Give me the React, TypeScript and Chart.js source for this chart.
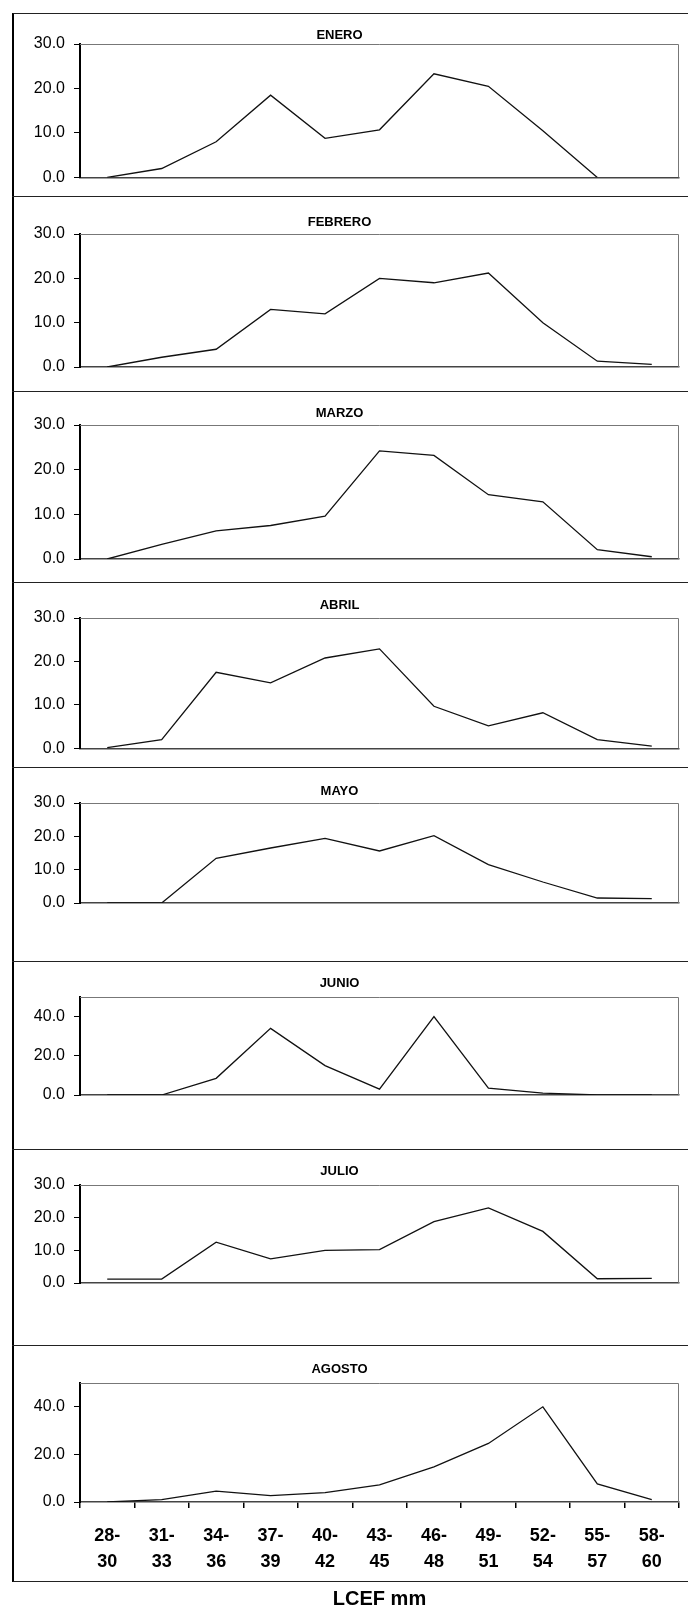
import React, { useEffect, useRef } from "react";
import { Chart, registerables } from "chart.js";

Chart.register(...registerables);

// ---------- DATA ----------
const categories: string[][] = [
  ["28-", "30"], ["31-", "33"], ["34-", "36"], ["37-", "39"], ["40-", "42"], ["43-", "45"],
  ["46-", "48"], ["49-", "51"], ["52-", "54"], ["55-", "57"], ["58-", "60"],
];
const months = ["ENERO", "FEBRERO", "MARZO", "ABRIL", "MAYO", "JUNIO", "JULIO", "AGOSTO"];

const enero = [0, 2, 8, 18.5, 8.8, 10.7, 23.3, 20.5, 10.5, 0, null];
const febrero = [0, 2.2, 4, 13, 12, 20, 19, 21.2, 10, 1.3, 0.6];
const marzo = [0, 3.3, 6.3, 7.5, 9.6, 24.2, 23.2, 14.4, 12.8, 2.1, 0.5];
const abril = [0.2, 2, 17.5, 15.1, 20.8, 22.9, 9.7, 5.2, 8.2, 2, 0.5];
const mayo = [0, 0, 13.4, 16.5, 19.4, 15.6, 20.2, 11.5, 6.3, 1.5, 1.3];
const junio = [0, 0, 8.5, 34, 15, 3, 40, 3.5, 1, 0, 0];
const julio = [1.2, 1.2, 12.5, 7.4, 10, 10.2, 18.8, 23, 15.8, 1.3, 1.4];
const agosto = [0, 1, 4.6, 2.7, 3.9, 7.2, 14.8, 24.6, 40, 7.6, 1];

const yTicks30 = [0, 10, 20, 30];
const yTicks50 = [0, 20, 40];
const yMax30 = 30;
const yMax50 = 50;
const xAxisTitle = "LCEF mm";

const seriesList = [enero, febrero, marzo, abril, mayo, junio, julio, agosto];
const yMaxList = [yMax30, yMax30, yMax30, yMax30, yMax30, yMax50, yMax30, yMax50];
const yTickList = [yTicks30, yTicks30, yTicks30, yTicks30, yTicks30, yTicks50, yTicks30, yTicks50];

// ---------- LAYOUT (page pixels) ----------
const PAGE_W = 688;
const PAGE_H = 1609;
const FRAME_LEFT = 12;
const FRAME_TOP = 13;
const FRAME_BOTTOM = 1582;
const PLOT_LEFT = 80;
const PLOT_RIGHT = 679;

const layout = [
  { top: 13, bottom: 196, titleY: 35, plotTop: 44, plotBottom: 179 },
  { top: 196, bottom: 391, titleY: 222, plotTop: 234, plotBottom: 367 },
  { top: 391, bottom: 582, titleY: 413, plotTop: 425, plotBottom: 559 },
  { top: 582, bottom: 767, titleY: 605, plotTop: 618, plotBottom: 751 },
  { top: 767, bottom: 961, titleY: 791, plotTop: 803, plotBottom: 903 },
  { top: 961, bottom: 1149, titleY: 983, plotTop: 997, plotBottom: 1095 },
  { top: 1149, bottom: 1345, titleY: 1171, plotTop: 1185, plotBottom: 1283 },
  { top: 1345, bottom: PAGE_H, titleY: 1369, plotTop: 1383, plotBottom: 1502 },
];

const FONT = "'Liberation Sans', Arial, Helvetica, sans-serif";

const plotFrame = {
  id: "plotFrame",
  afterDatasetsDraw(chart: any) {
    const { ctx, chartArea: a } = chart;
    ctx.save();
    ctx.strokeStyle = "#777";
    ctx.lineWidth = 1;
    ctx.beginPath();
    ctx.moveTo(a.left, Math.round(a.top) + 0.5);
    ctx.lineTo(Math.round(a.right) - 0.5, Math.round(a.top) + 0.5);
    ctx.lineTo(Math.round(a.right) - 0.5, a.bottom);
    ctx.stroke();
    ctx.restore();
  },
};

function Panel({ index }: { index: number }) {
  const ref = useRef<HTMLCanvasElement | null>(null);
  const spec = layout[index];
  const isLast = index === layout.length - 1;
  const height = spec.bottom - spec.top;

  useEffect(() => {
    if (!ref.current) return;
    const titleLH = 15.6;
    const padTop = spec.titleY - spec.top - titleLH / 2;
    const padBottom = spec.plotTop - spec.top - padTop - titleLH;
    const xHeight = isLast ? spec.bottom - spec.plotBottom : 0;
    const bottomPad = isLast ? 0 : spec.bottom - spec.plotBottom;
    const ticks = yTickList[index];

    const chart = new Chart(ref.current, {
      type: "line",
      data: {
        labels: categories,
        datasets: [
          {
            label: months[index],
            data: seriesList[index] as any,
            borderColor: "#111",
            borderWidth: 1.3,
            pointRadius: 0,
            tension: 0,
            fill: false,
            spanGaps: false,
          },
        ],
      },
      options: {
        animation: false,
        responsive: false,
        devicePixelRatio: 1,
        layout: { padding: { left: 0, right: PAGE_W - PLOT_RIGHT, top: 0, bottom: bottomPad } },
        plugins: {
          legend: { display: false },
          tooltip: { enabled: false },
          title: {
            display: true,
            text: months[index],
            color: "#000",
            font: { family: FONT, size: 13, weight: "bold", lineHeight: 1.2 },
            padding: { top: padTop, bottom: padBottom },
          },
        },
        scales: {
          x: {
            type: "category",
            offset: true,
            afterFit: (s: any) => {
              s.height = xHeight;
            },
            grid: {
              display: isLast,
              offset: true,
              drawOnChartArea: false,
              drawTicks: isLast,
              tickLength: 6,
              color: "#000",
              lineWidth: 1.5,
            },
            border: { display: true, color: "#444", width: 1.5 },
            ticks: {
              display: isLast,
              color: "#000",
              autoSkip: false,
              maxRotation: 0,
              minRotation: 0,
              padding: 15,
              font: { family: FONT, size: 18, weight: "bold", lineHeight: 1.45 },
            },
            title: {
              display: isLast,
              text: xAxisTitle,
              color: "#000",
              font: { family: FONT, size: 20, weight: "bold", lineHeight: 1 },
              padding: { top: 0, bottom: 0 },
            },
          },
          y: {
            type: "linear",
            min: 0,
            max: yMaxList[index],
            afterBuildTicks: (s: any) => {
              s.ticks = ticks.map((v) => ({ value: v }));
            },
            afterFit: (s: any) => {
              s.width = PLOT_LEFT;
            },
            grid: {
              display: true,
              drawOnChartArea: false,
              drawTicks: true,
              tickLength: 6,
              color: "#000",
              lineWidth: 1,
            },
            border: { display: true, color: "#000", width: 2 },
            ticks: {
              color: "#000",
              padding: 9,
              font: { family: FONT, size: 16 },
              callback: (v: any) => Number(v).toFixed(1),
            },
          },
        },
      },
      plugins: [plotFrame],
    });
    return () => chart.destroy();
  }, [index]);

  return (
    <canvas
      ref={ref}
      width={PAGE_W}
      height={height}
      style={{ position: "absolute", left: 0, top: spec.top, width: PAGE_W, height }}
    />
  );
}

export default function App() {
  const dividers = layout.slice(1).map((l) => l.top);
  return (
    <div
      style={{
        position: "absolute",
        left: 0,
        top: 0,
        width: PAGE_W,
        height: PAGE_H,
        overflow: "hidden",
        background: "#fff",
      }}
    >
      {layout.map((_, i) => (
        <Panel key={i} index={i} />
      ))}
      <div
        style={{
          position: "absolute",
          left: FRAME_LEFT,
          top: FRAME_TOP,
          width: PAGE_W,
          height: FRAME_BOTTOM - FRAME_TOP,
          borderLeft: "2px solid #000",
          borderTop: "1.5px solid #222",
          borderBottom: "1.5px solid #222",
          boxSizing: "border-box",
          pointerEvents: "none",
        }}
      />
      {dividers.map((y, i) => (
        <div
          key={i}
          style={{
            position: "absolute",
            left: FRAME_LEFT,
            top: y,
            width: PAGE_W,
            height: 0,
            borderTop: "1.5px solid #222",
            pointerEvents: "none",
          }}
        />
      ))}
    </div>
  );
}
